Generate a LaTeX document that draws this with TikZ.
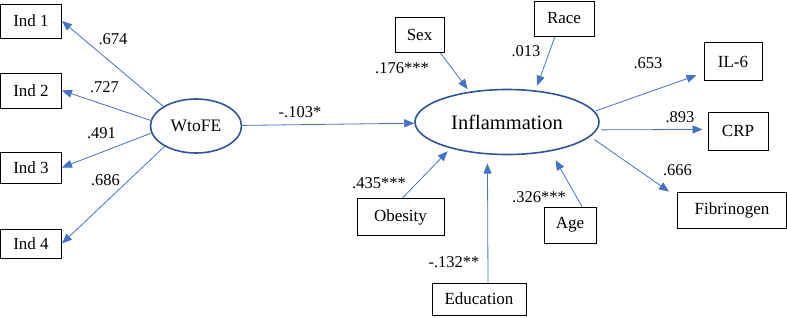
\documentclass[tikz,border=0pt]{standalone}
\usepackage{fontspec}
\setmainfont{Liberation Serif}
\usetikzlibrary{shapes.geometric,arrows.meta}
\definecolor{arrowblue}{RGB}{68,114,196}
\definecolor{ellblue}{RGB}{47,85,151}

\begin{document}
\begin{tikzpicture}[x=1pt,y=-1pt,
    obs/.style={draw,rectangle,line width=0.9pt,inner sep=0pt,font=\fontsize{17}{20}\selectfont},
    lat/.style={draw=ellblue,ellipse,line width=1.6pt,inner sep=0pt},
    coef/.style={inner sep=0pt,font=\fontsize{16.5}{20}\selectfont},
    arr/.style={-{Triangle[length=10pt,width=8pt]},color=arrowblue,line width=0.8pt}]
    \useasboundingbox (0,0) rectangle (787,317);

    % indicators of WtoFE
    \node[obs,minimum width=61pt,minimum height=34pt] (ind1) at (31,21) {Ind 1};
    \node[obs,minimum width=61pt,minimum height=35pt] (ind2) at (31,90.5) {Ind 2};
    \node[obs,minimum width=61pt,minimum height=31pt] (ind3) at (31,167.5) {Ind 3};
    \node[obs,minimum width=61pt,minimum height=29pt] (ind4) at (31,243.5) {Ind 4};

    % latent variables
    \node[lat,minimum width=91pt,minimum height=54pt,font=\fontsize{17.5}{20}\selectfont] (wtofe) at (196,126) {WtoFE};
    \node[lat,minimum width=184pt,minimum height=65pt,font=\fontsize{20.5}{24}\selectfont] (infl) at (507,122) {Inflammation};

    % covariates
    \node[obs,minimum width=49pt,minimum height=35pt] (sex) at (419.5,35) {Sex};
    \node[obs,minimum width=60pt,minimum height=35pt] (race) at (564,18.5) {Race};
    \node[obs,minimum width=87pt,minimum height=37pt] (obes) at (400.5,217) {Obesity};
    \node[obs,minimum width=94pt,minimum height=32pt] (edu) at (479,299) {Education};
    \node[obs,minimum width=52pt,minimum height=36pt] (age) at (570,225) {Age};

    % indicators of Inflammation
    \node[obs,minimum width=58pt,minimum height=38pt] (il6) at (733,61.5) {IL-6};
    \node[obs,minimum width=60pt,minimum height=38pt] (crp) at (738,131) {CRP};
    \node[obs,minimum width=109pt,minimum height=36pt] (fib) at (732,210) {Fibrinogen};

    % paths
    \draw[arr] (wtofe.149) -- (ind1.east);
    \draw[arr] (wtofe.173) -- (ind2.east);
    \draw[arr] (wtofe.189) -- (ind3.east);
    \draw[arr] (wtofe.213) -- (ind4.east);
    \draw[arr] (wtofe) -- (infl);
    \draw[arr,shorten >=3pt] ([xshift=-4pt]sex.south east) -- (infl.141.5);
    \draw[arr,shorten >=5pt] ([xshift=-9pt]race.south) -- (infl.48.2);
    \draw[arr,shorten >=4pt] ([xshift=2pt]obes.north) -- (infl.205.1);
    \draw[arr,shorten >=9pt] ([xshift=9pt]edu.north) -- (infl.239);
    \draw[arr,shorten >=10pt] ([xshift=12pt]age.north) -- (infl.326.9);
    \draw[arr,shorten <=1pt,shorten >=7.5pt] (infl.7) -- (il6.201);
    \draw[arr,shorten <=4pt,shorten >=5pt] (infl.-5) -- (crp.177);
    \draw[arr,shorten <=5pt] (infl.-10) -- ([xshift=-8pt]fib.north west);

    % coefficients
    \node[coef] (c1) at (113,39) {.674};
    \node[coef] (c2) at (104.5,87.5) {.727};
    \node[coef] (c3) at (101.5,133.5) {.491};
    \node[coef] (c4) at (105.5,180.5) {.686};
    \node[coef] (c5) at (300,112) {-.103*};
    \node[coef] (c6) at (402,68) {.176***};
    \node[coef] (c7) at (526,51) {.013};
    \node[coef] (c8) at (379,183) {.435***};
    \node[coef] (c9) at (454,262) {-.132**};
    \node[coef] (c10) at (539,197) {.326***};
    \node[coef] (c11) at (648,63) {.653};
    \node[coef] (c12) at (680,117) {.893};
    \node[coef] (c13) at (677.5,170) {.666};
\end{tikzpicture}
\end{document}
